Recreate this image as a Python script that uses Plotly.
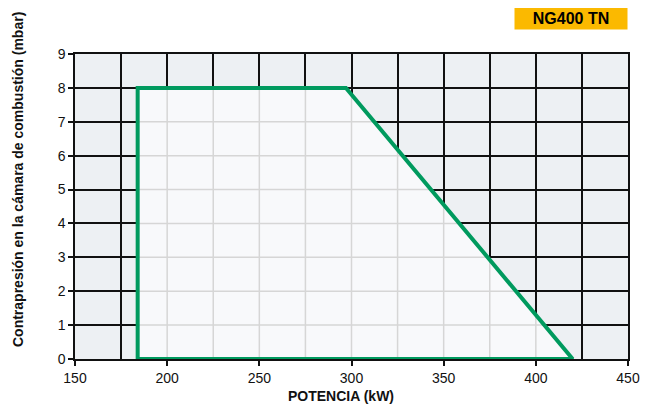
import numpy as np
import plotly.graph_objects as go

# Data: operating envelope (kW, mbar)
power_kw = [184, 184, 297, 420, 184]
pressure_mbar = [0, 8, 8, 0, 0]
x_ticks = [150, 200, 250, 300, 350, 400, 450]
y_ticks = [0, 1, 2, 3, 4, 5, 6, 7, 8, 9]
x_minor = [175, 200, 225, 250, 275, 300, 325, 350, 375, 400, 425]
title_box = "NG400 TN"
x_title = "POTENCIA (kW)"
y_title = "Contrapresión en la cámara de combustión (mbar)"

GREEN = "#009a5e"
FONT = "Liberation Sans, Arial, sans-serif"

fig = go.Figure()

# filled envelope (covers black grid)
fig.add_trace(go.Scatter(x=power_kw, y=pressure_mbar, mode="lines", fill="toself",
                         fillcolor="#f8f9fb", line=dict(width=0), hoverinfo="skip",
                         showlegend=False))

# light grid inside envelope
top_x = [184, 297, 420]
top_y = [8, 8, 0]
gx, gy = [], []
for xv in x_minor:
    if 184 < xv < 420:
        gx += [xv, xv, None]
        gy += [0, float(np.interp(xv, top_x, top_y)), None]
for yv in y_ticks:
    if 0 < yv < 8:
        xr = float(np.interp(yv, [0, 8], [420, 297]))
        gx += [184, xr, None]
        gy += [yv, yv, None]
fig.add_trace(go.Scatter(x=gx, y=gy, mode="lines", line=dict(color="#d6d6d6", width=1.5),
                         hoverinfo="skip", showlegend=False))

# envelope outline
fig.add_trace(go.Scatter(x=power_kw, y=pressure_mbar, mode="lines",
                         line=dict(color=GREEN, width=4), showlegend=False))

fig.update_xaxes(range=[150, 450], tickvals=x_ticks, showgrid=True, gridcolor="#111",
                 gridwidth=1.5, minor=dict(tickvals=x_minor, showgrid=True, gridcolor="#111",
                                           gridwidth=1.5),
                 showline=True, linecolor="#111", linewidth=1.5, mirror=True,
                 ticks="outside", ticklen=5, tickcolor="#111", tickwidth=1.5,
                 zeroline=False, automargin=False,
                 tickfont=dict(size=14, color="#111", family=FONT))
fig.update_yaxes(range=[0, 9], tickvals=y_ticks, showgrid=True, gridcolor="#111",
                 gridwidth=1.5, showline=True, linecolor="#111", linewidth=1.5, mirror=True,
                 ticks="outside", ticklen=5, tickcolor="#111", tickwidth=1.5,
                 zeroline=False, automargin=False,
                 tickfont=dict(size=14, color="#111", family=FONT))

# page body has an 8px margin, so the figure is sized/offset accordingly
fig.update_layout(
    width=644, height=402,
    margin=dict(l=67, r=24, t=46, b=51),
    plot_bgcolor="#edf0f3", paper_bgcolor="white",
    font=dict(family=FONT, color="#111"),
    annotations=[
        dict(text="<b>%s</b>" % title_box, xref="paper", yref="paper", x=1, y=1.1164,
             xanchor="right", yanchor="middle", showarrow=False, bgcolor="#fbb900",
             width=110, height=19, font=dict(size=16, color="#000", family=FONT)),
        dict(text="<b>%s</b>" % x_title, xref="paper", yref="paper", x=0.481, y=-0.1213,
             xanchor="center", yanchor="middle", showarrow=False,
             font=dict(size=14, color="#111", family=FONT)),
        dict(text="<b>%s</b>" % y_title, xref="paper", yref="paper", x=-0.103, y=0.587,
             xanchor="center", yanchor="middle", showarrow=False, textangle=-90,
             font=dict(size=14, color="#111", family=FONT)),
    ],
)

fig.write_html("out.html")
